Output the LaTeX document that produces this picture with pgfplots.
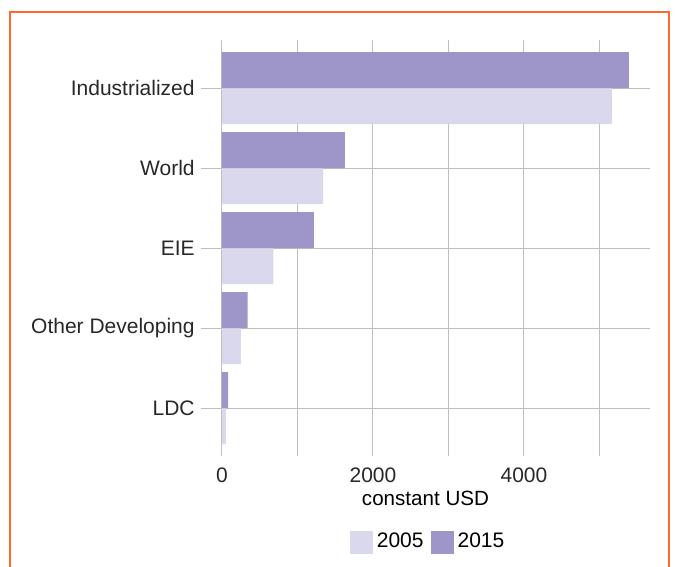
\documentclass[border=0pt]{standalone}
\usepackage{pgfplots}
\pgfplotsset{compat=1.18}
\usepackage{fontspec}
\setmainfont{Liberation Sans}
\definecolor{darkbar}{RGB}{158,149,200}
\definecolor{lightbar}{RGB}{218,216,236}
\definecolor{framecol}{RGB}{255,106,43}
\definecolor{gridcol}{RGB}{190,190,190}
\definecolor{txt}{RGB}{40,40,40}
\pgfplotstableread{
y v2005 v2015
0 52 82
1 250 338
2 682 1217
3 1340 1628
4 5164 5389
}\datatab
\begin{document}
\begin{tikzpicture}
\fontsize{10.5}{12}\selectfont
\path[use as bounding box, fill=white] (0pt,0pt) rectangle (339pt,-283pt);
\draw[framecol, line width=1.3pt] (5pt,-290pt) -- (5pt,-6pt) -- (334.5pt,-6pt) -- (334.5pt,-290pt);
\begin{axis}[
  at={(100.5pt,-228pt)}, anchor=south west,
  scale only axis, width=224.5pt, height=208pt,
  xmin=-278, xmax=5669, ymin=-0.6, ymax=4.6,
  xbar, bar width=0.45,
  axis line style={draw=none},
  major tick length=0pt, minor tick length=0pt,
  xtick={0,2000,4000}, minor xtick={1000,3000,5000},
  ytick={0,1,2,3,4},
  yticklabels={LDC,Other Developing,EIE,World,Industrialized},
  grid=both,
  major grid style={gridcol, line width=0.5pt},
  minor grid style={gridcol, line width=0.5pt},
  tick label style={font=\fontsize{10.5}{12}\selectfont, text=txt},
  /pgf/number format/assume math mode=true,
  /pgf/number format/1000 sep={},
  xticklabel style={yshift=-2pt},
  yticklabel style={xshift=0.5pt},
  xlabel={constant USD},
  xlabel style={font=\fontsize{10.3}{12}\selectfont, yshift=3pt, text=black},
  legend columns=2,
  legend style={at={(0.508,-0.207)}, anchor=center, draw=none, fill=none,
    font=\fontsize{10.5}{12}\selectfont, column sep=1.5pt,
    /tikz/every odd column/.append style={column sep=0pt}},
  legend image code/.code={\fill[#1,draw=none] (0pt,-5.75pt) rectangle (11.5pt,5.75pt);},
  legend cell align=left,
]
\addplot[fill=lightbar, draw=none, bar shift=-0.225] table[x=v2005, y=y] {\datatab};
\addplot[fill=darkbar, draw=none, bar shift=0.225] table[x=v2015, y=y] {\datatab};
\legend{2005,2015}
\end{axis}
\end{tikzpicture}
\end{document}
